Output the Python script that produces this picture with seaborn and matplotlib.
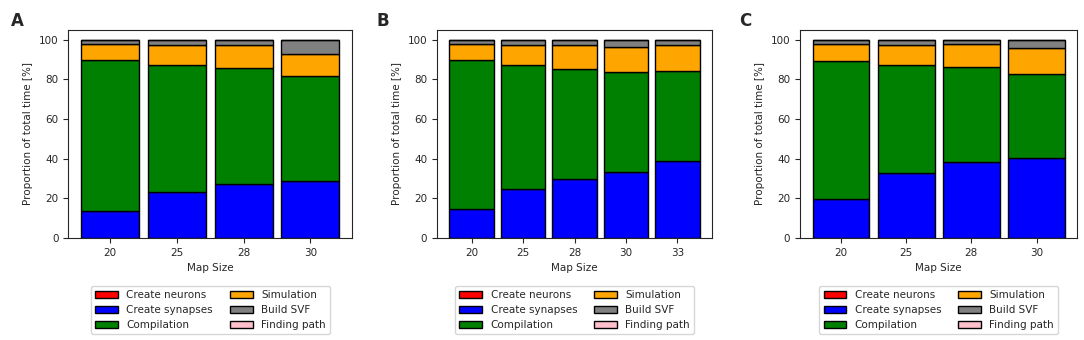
import numpy as np
import matplotlib
matplotlib.use("Agg")
import matplotlib.pyplot as plt
import matplotlib.patches as mpatches
import seaborn as sns

# --- datos (porcentaje del tiempo total) ---
etapas = ["Create neurons", "Create synapses", "Compilation",
          "Simulation", "Build SVF", "Finding path"]
colores = ["red", "blue", "green", "orange", "gray", "pink"]

map_a = ["20", "25", "28", "30"]
neurons_a = [0.1, 0.1, 0.1, 0.1]
synapses_a = [13.7, 23.1, 27.3, 28.8]
compilation_a = [76.1, 64.2, 58.3, 52.9]
simulation_a = [7.9, 10.1, 11.8, 11.3]
svf_a = [2.1, 2.4, 2.4, 6.6]
path_a = [0.1, 0.1, 0.1, 0.3]

map_b = ["20", "25", "28", "30", "33"]
neurons_b = [0.1, 0.1, 0.1, 0.1, 0.1]
synapses_b = [14.4, 24.7, 29.9, 33.0, 39.0]
compilation_b = [75.4, 62.6, 55.5, 50.5, 45.2]
simulation_b = [7.9, 10.1, 12.0, 13.0, 13.2]
svf_b = [2.1, 2.4, 2.4, 3.3, 2.4]
path_b = [0.1, 0.1, 0.1, 0.1, 0.1]

map_c = ["20", "25", "28", "30"]
neurons_c = [0.1, 0.1, 0.1, 0.1]
synapses_c = [19.8, 32.8, 38.5, 40.2]
compilation_c = [69.3, 54.5, 47.6, 42.5]
simulation_c = [8.6, 10.1, 11.6, 13.0]
svf_c = [2.1, 2.4, 2.1, 4.1]
path_c = [0.1, 0.1, 0.1, 0.1]

paneles = [
    ("A", map_a, [neurons_a, synapses_a, compilation_a, simulation_a, svf_a, path_a]),
    ("B", map_b, [neurons_b, synapses_b, compilation_b, simulation_b, svf_b, path_b]),
    ("C", map_c, [neurons_c, synapses_c, compilation_c, simulation_c, svf_c, path_c]),
]

sns.set_style("ticks")
plt.rcParams["font.family"] = ["DejaVu Sans"]

fig = plt.figure(figsize=(10.84, 3.40), dpi=100)

# posiciones de los ejes (fraccion de figura)
posiciones = [
    [0.063, 0.300, 0.262, 0.612],
    [0.403, 0.300, 0.254, 0.612],
    [0.738, 0.300, 0.256, 0.612],
]
letras_x = [0.010, 0.347, 0.682]

ancho = 0.87
fs = 7.5

for (letra, mapas, capas), pos, lx in zip(paneles, posiciones, letras_x):
    ax = fig.add_axes(pos)
    base = np.zeros(len(mapas))
    for valores, color in zip(capas, colores):
        sns.barplot(x=mapas, y=valores, order=mapas, color=color, bottom=base,
                    width=ancho, edgecolor="black", linewidth=1.0,
                    errorbar=None, saturation=1, ax=ax)
        base = base + np.array(valores)

    n = len(mapas)
    m = 0.05 * (n - 1 + ancho)
    ax.set_xlim(-ancho / 2 - m, n - 1 + ancho / 2 + m)
    ax.set_ylim(0, 105)
    ax.set_yticks([0, 20, 40, 60, 80, 100])
    ax.tick_params(labelsize=fs, length=3.5)
    ax.set_xlabel("Map Size", fontsize=fs)
    ax.set_ylabel("Proportion of total time [%]", fontsize=fs)
    for s in ax.spines.values():
        s.set_linewidth(0.8)
        s.set_visible(True)

    fig.text(lx, 0.965, letra, fontsize=12, fontweight="bold", va="top")

    handles = [mpatches.Patch(facecolor=c, edgecolor="black", label=e)
               for e, c in zip(etapas, colores)]
    cx = pos[0] + pos[2] / 2
    fig.legend(handles=handles, loc="upper center", bbox_to_anchor=(cx, 0.175),
               ncol=2, fontsize=fs, frameon=True, handlelength=2.2,
               columnspacing=1.6, labelspacing=0.5)

fig.savefig("out.png", dpi=100)
